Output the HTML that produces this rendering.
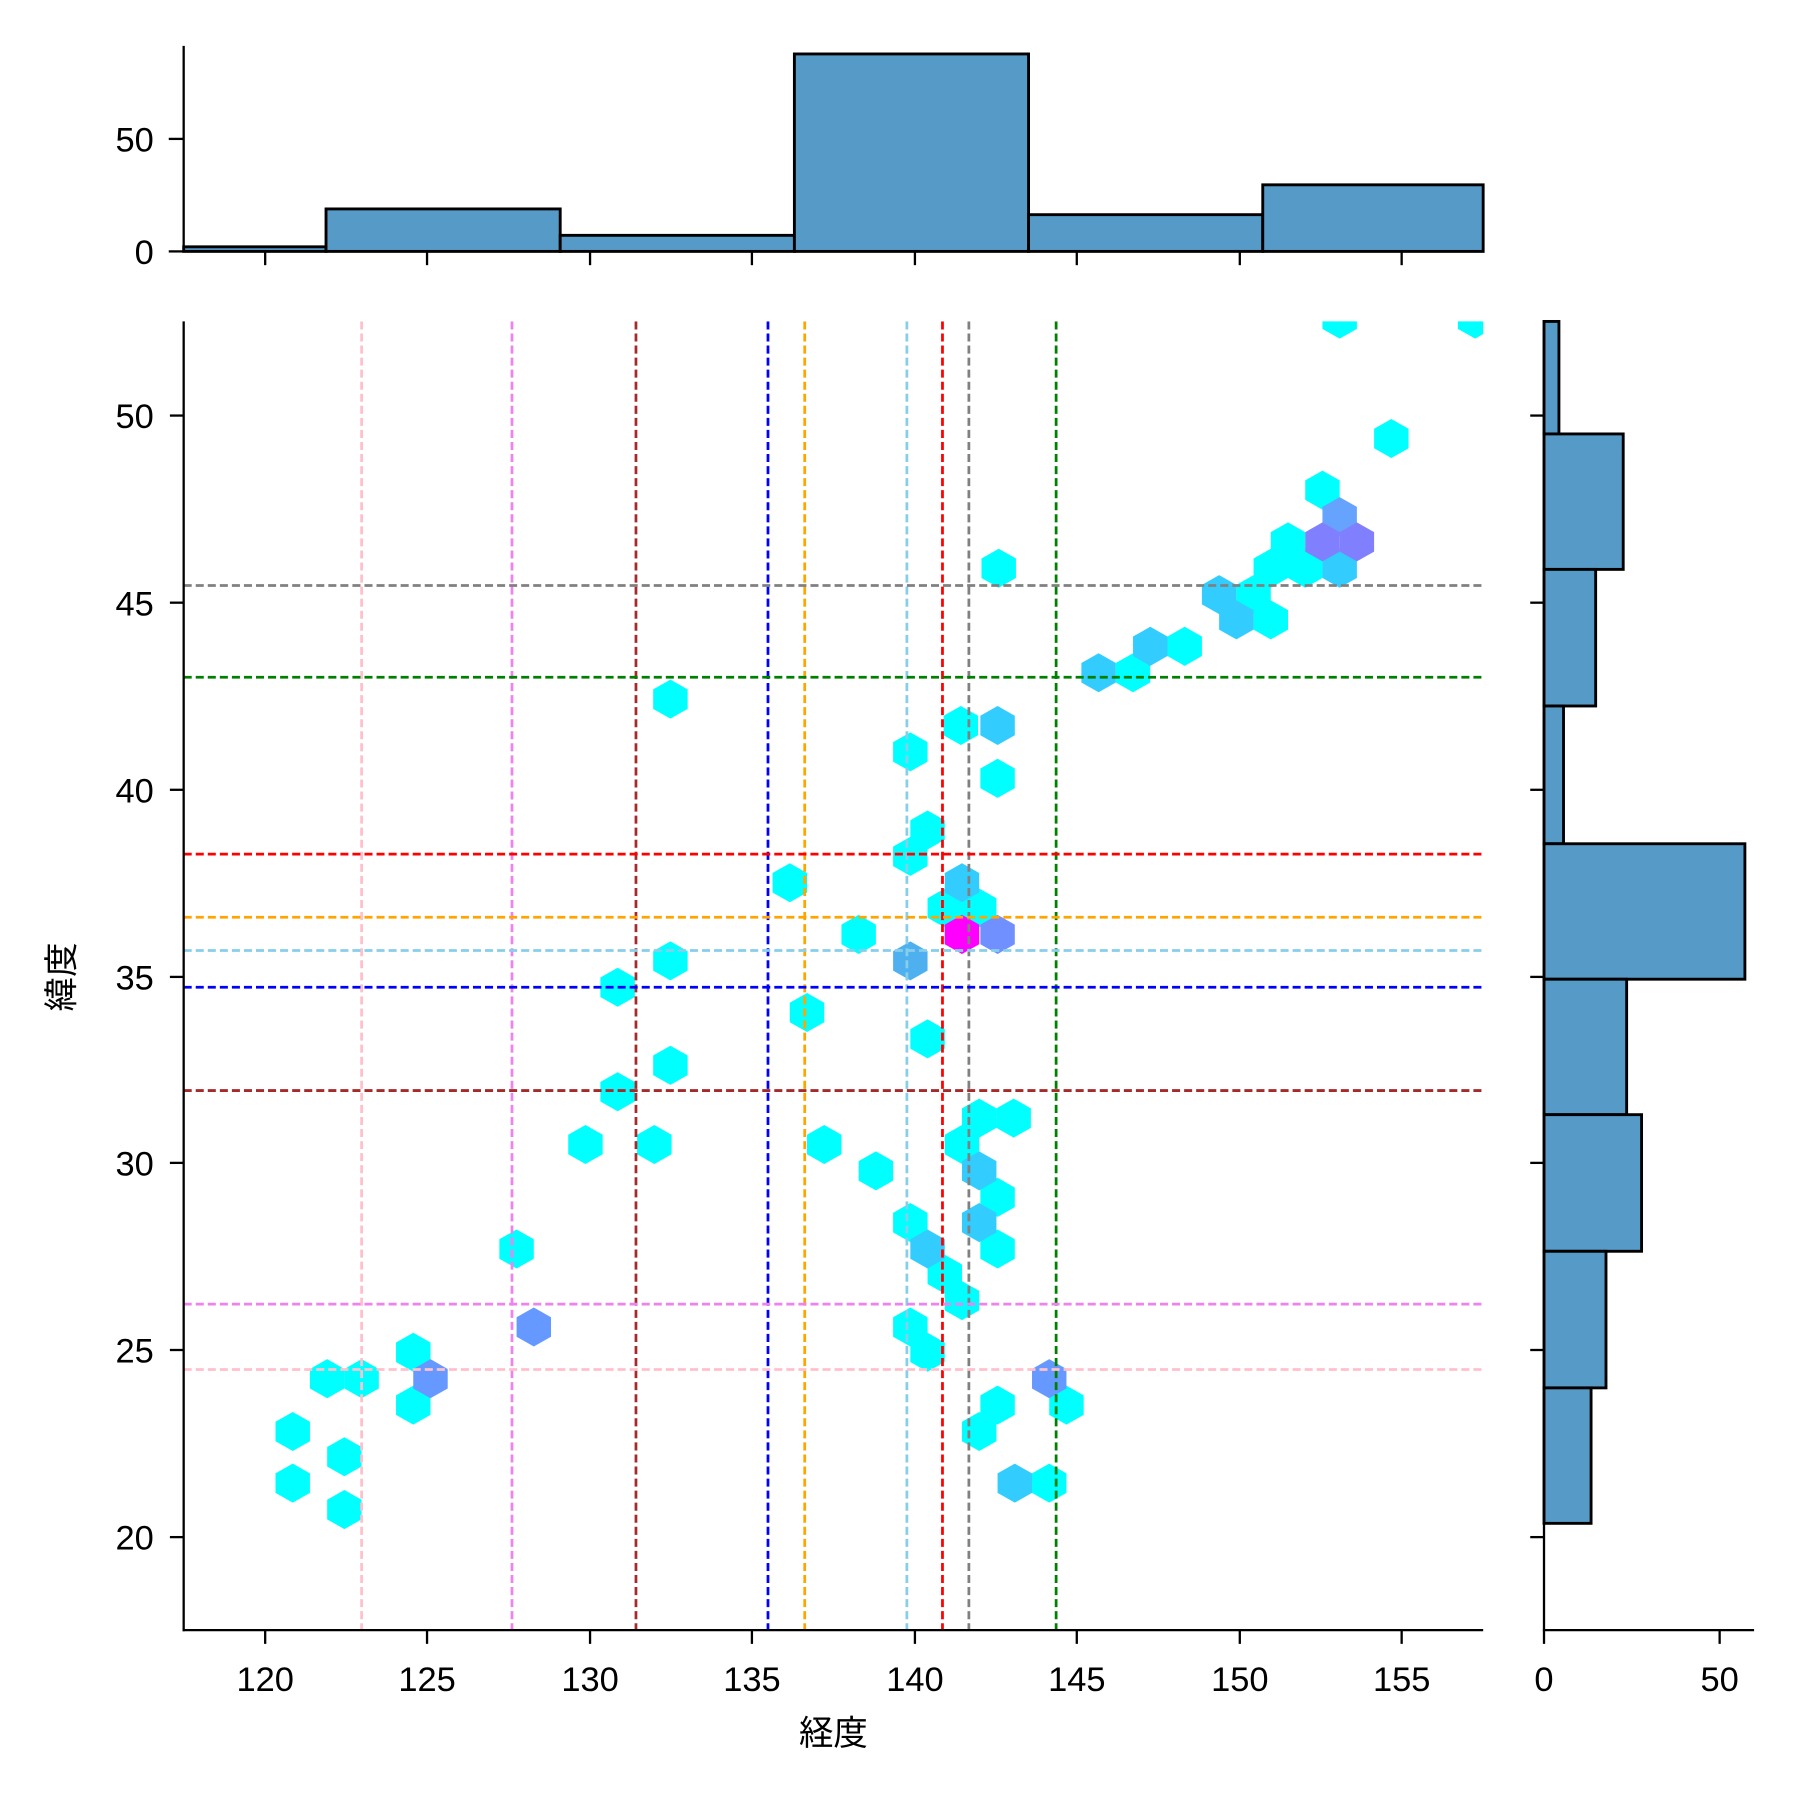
<!DOCTYPE html>
<html><head><meta charset="utf-8"><style>html,body{margin:0;padding:0;background:#fff}svg{display:block}</style></head><body>
<svg width="1800" height="1800" viewBox="0 0 1568 1568" xmlns="http://www.w3.org/2000/svg" font-family="Liberation Sans, Noto Sans CJK JP, sans-serif" font-size="30">
<defs>
<clipPath id="cm"><rect x="160" y="280" width="1132" height="1140"/></clipPath>
<polygon id="h" points="0,-17 15,-8.5 15,8.5 0,17 -15,8.5 -15,-8.5"/>
</defs>
<rect width="1568" height="1568" fill="#fff"/>
<g fill="#569ac7" stroke="#000" stroke-width="2.5">
<rect x="160" y="215" width="124" height="4"/>
<rect x="284" y="182" width="204" height="37"/>
<rect x="488" y="205" width="204" height="14"/>
<rect x="692" y="47" width="204" height="172"/>
<rect x="896" y="187" width="204" height="32"/>
<rect x="1100" y="161" width="192" height="58"/>
</g>
<g stroke="#000" stroke-width="2">
<line x1="160" y1="40" x2="160" y2="220"/>
<line x1="159" y1="219" x2="1292" y2="219"/>
<line x1="147" y1="219" x2="160" y2="219"/><line x1="147" y1="121" x2="160" y2="121"/>
<line x1="231" y1="219" x2="231" y2="231"/><line x1="372" y1="219" x2="372" y2="231"/><line x1="514" y1="219" x2="514" y2="231"/><line x1="655" y1="219" x2="655" y2="231"/><line x1="797" y1="219" x2="797" y2="231"/><line x1="938" y1="219" x2="938" y2="231"/><line x1="1080" y1="219" x2="1080" y2="231"/><line x1="1221" y1="219" x2="1221" y2="231"/>
</g>
<g text-anchor="end"><text x="134" y="230">0</text><text x="134" y="132">50</text></g>
<g fill="#569ac7" stroke="#000" stroke-width="2.5">
<rect x="1345" y="280" width="13" height="98"/>
<rect x="1345" y="378" width="69" height="118"/>
<rect x="1345" y="496" width="45" height="119"/>
<rect x="1345" y="615" width="17" height="120"/>
<rect x="1345" y="735" width="175" height="118"/>
<rect x="1345" y="853" width="72" height="118"/>
<rect x="1345" y="971" width="85" height="119"/>
<rect x="1345" y="1090" width="54" height="119"/>
<rect x="1345" y="1209" width="41" height="118"/>
</g>
<g stroke="#000" stroke-width="2">
<line x1="1345" y1="280" x2="1345" y2="1420"/>
<line x1="1344" y1="1420" x2="1528" y2="1420"/>
<line x1="1345" y1="1420" x2="1345" y2="1432"/><line x1="1498" y1="1420" x2="1498" y2="1432"/>
<line x1="1333" y1="362" x2="1345" y2="362"/><line x1="1333" y1="525" x2="1345" y2="525"/><line x1="1333" y1="688" x2="1345" y2="688"/><line x1="1333" y1="851" x2="1345" y2="851"/><line x1="1333" y1="1013" x2="1345" y2="1013"/><line x1="1333" y1="1176" x2="1345" y2="1176"/><line x1="1333" y1="1339" x2="1345" y2="1339"/>
</g>
<g text-anchor="middle"><text x="1345" y="1473">0</text><text x="1498" y="1473">50</text></g>
<g clip-path="url(#cm)">
<g fill="#00ffff">
<use href="#h" x="1167" y="278"/><use href="#h" x="1285" y="278"/><use href="#h" x="1212" y="382"/><use href="#h" x="1152" y="427"/>
<use href="#h" x="1107" y="495"/><use href="#h" x="1122" y="472"/><use href="#h" x="1137" y="495"/><use href="#h" x="870" y="495"/>
<use href="#h" x="1092" y="518"/><use href="#h" x="1107" y="540"/><use href="#h" x="1032" y="563"/><use href="#h" x="987" y="586"/>
<use href="#h" x="584" y="609"/><use href="#h" x="837" y="632"/><use href="#h" x="793" y="655"/><use href="#h" x="869" y="678"/>
<use href="#h" x="808" y="723"/><use href="#h" x="793" y="746"/><use href="#h" x="688" y="769"/><use href="#h" x="823" y="791"/><use href="#h" x="853" y="791"/>
<use href="#h" x="748" y="814"/><use href="#h" x="584" y="837"/><use href="#h" x="538" y="860"/><use href="#h" x="703" y="882"/><use href="#h" x="808" y="905"/>
<use href="#h" x="584" y="928"/><use href="#h" x="538" y="951"/><use href="#h" x="853" y="974"/><use href="#h" x="883" y="974"/>
<use href="#h" x="510" y="997"/><use href="#h" x="570" y="997"/><use href="#h" x="718" y="997"/><use href="#h" x="838" y="997"/>
<use href="#h" x="763" y="1020"/><use href="#h" x="869" y="1043"/><use href="#h" x="793" y="1065"/><use href="#h" x="869" y="1088"/><use href="#h" x="450" y="1088"/>
<use href="#h" x="823" y="1110"/><use href="#h" x="838" y="1133"/><use href="#h" x="793" y="1156"/><use href="#h" x="808" y="1178"/><use href="#h" x="360" y="1178"/>
<use href="#h" x="285" y="1201"/><use href="#h" x="315" y="1201"/><use href="#h" x="360" y="1224"/><use href="#h" x="869" y="1224"/><use href="#h" x="929" y="1224"/>
<use href="#h" x="255" y="1247"/><use href="#h" x="853" y="1247"/><use href="#h" x="300" y="1269"/><use href="#h" x="255" y="1292"/><use href="#h" x="914" y="1292"/><use href="#h" x="300" y="1315"/>
</g>
<g fill="#33ccff">
<use href="#h" x="1167" y="495"/><use href="#h" x="1062" y="518"/><use href="#h" x="1077" y="540"/><use href="#h" x="1002" y="563"/><use href="#h" x="957" y="586"/>
<use href="#h" x="869" y="632"/><use href="#h" x="838" y="769"/><use href="#h" x="853" y="1020"/><use href="#h" x="853" y="1065"/><use href="#h" x="808" y="1088"/><use href="#h" x="884" y="1292"/>
</g>
<use href="#h" x="793" y="837" fill="#4fb0f0"/>
<use href="#h" x="1167" y="450" fill="#66a3ff"/>
<g fill="#8080ff"><use href="#h" x="1152" y="472"/><use href="#h" x="1182" y="472"/></g>
<use href="#h" x="869" y="814" fill="#7090ff"/>
<use href="#h" x="838" y="814" fill="#ff00ff"/>
<g fill="#6699ff"><use href="#h" x="465" y="1156"/><use href="#h" x="375" y="1201"/><use href="#h" x="914" y="1201"/></g>
<g stroke-width="2.4" stroke-dasharray="7,3.5">
<line x1="315" y1="280" x2="315" y2="1420" stroke="#ffc0cb"/>
<line x1="446" y1="280" x2="446" y2="1420" stroke="#ee82ee"/>
<line x1="554" y1="280" x2="554" y2="1420" stroke="#a52a2a"/>
<line x1="669" y1="280" x2="669" y2="1420" stroke="#0000ff"/>
<line x1="701" y1="280" x2="701" y2="1420" stroke="#ffa500"/>
<line x1="790" y1="280" x2="790" y2="1420" stroke="#87ceeb"/>
<line x1="821" y1="280" x2="821" y2="1420" stroke="#ff0000"/>
<line x1="844" y1="280" x2="844" y2="1420" stroke="#808080"/>
<line x1="920" y1="280" x2="920" y2="1420" stroke="#008000"/>
<line x1="160" y1="510" x2="1292" y2="510" stroke="#808080"/>
<line x1="160" y1="590" x2="1292" y2="590" stroke="#008000"/>
<line x1="160" y1="744" x2="1292" y2="744" stroke="#ff0000"/>
<line x1="160" y1="799" x2="1292" y2="799" stroke="#ffa500"/>
<line x1="160" y1="828" x2="1292" y2="828" stroke="#87ceeb"/>
<line x1="160" y1="860" x2="1292" y2="860" stroke="#0000ff"/>
<line x1="160" y1="950" x2="1292" y2="950" stroke="#a52a2a"/>
<line x1="160" y1="1136" x2="1292" y2="1136" stroke="#ee82ee"/>
<line x1="160" y1="1193" x2="1292" y2="1193" stroke="#ffc0cb"/>
</g>
</g>
<g stroke="#000" stroke-width="2">
<line x1="160" y1="280" x2="160" y2="1421"/>
<line x1="159" y1="1420" x2="1292" y2="1420"/>
<line x1="231" y1="1420" x2="231" y2="1432"/><line x1="372" y1="1420" x2="372" y2="1432"/><line x1="514" y1="1420" x2="514" y2="1432"/><line x1="655" y1="1420" x2="655" y2="1432"/><line x1="797" y1="1420" x2="797" y2="1432"/><line x1="938" y1="1420" x2="938" y2="1432"/><line x1="1080" y1="1420" x2="1080" y2="1432"/><line x1="1221" y1="1420" x2="1221" y2="1432"/>
<line x1="148" y1="362" x2="160" y2="362"/><line x1="148" y1="525" x2="160" y2="525"/><line x1="148" y1="688" x2="160" y2="688"/><line x1="148" y1="851" x2="160" y2="851"/><line x1="148" y1="1013" x2="160" y2="1013"/><line x1="148" y1="1176" x2="160" y2="1176"/><line x1="148" y1="1339" x2="160" y2="1339"/>
</g>
<g text-anchor="middle"><text x="231" y="1473">120</text><text x="372" y="1473">125</text><text x="514" y="1473">130</text><text x="655" y="1473">135</text><text x="797" y="1473">140</text><text x="938" y="1473">145</text><text x="1080" y="1473">150</text><text x="1221" y="1473">155</text></g>
<g text-anchor="end"><text x="134" y="373">50</text><text x="134" y="536">45</text><text x="134" y="699">40</text><text x="134" y="862">35</text><text x="134" y="1024">30</text><text x="134" y="1187">25</text><text x="134" y="1350">20</text></g>
<text x="726" y="1520" text-anchor="middle">経度</text>
<text transform="translate(64,851) rotate(-90)" text-anchor="middle">緯度</text>
</svg>
</body></html>
